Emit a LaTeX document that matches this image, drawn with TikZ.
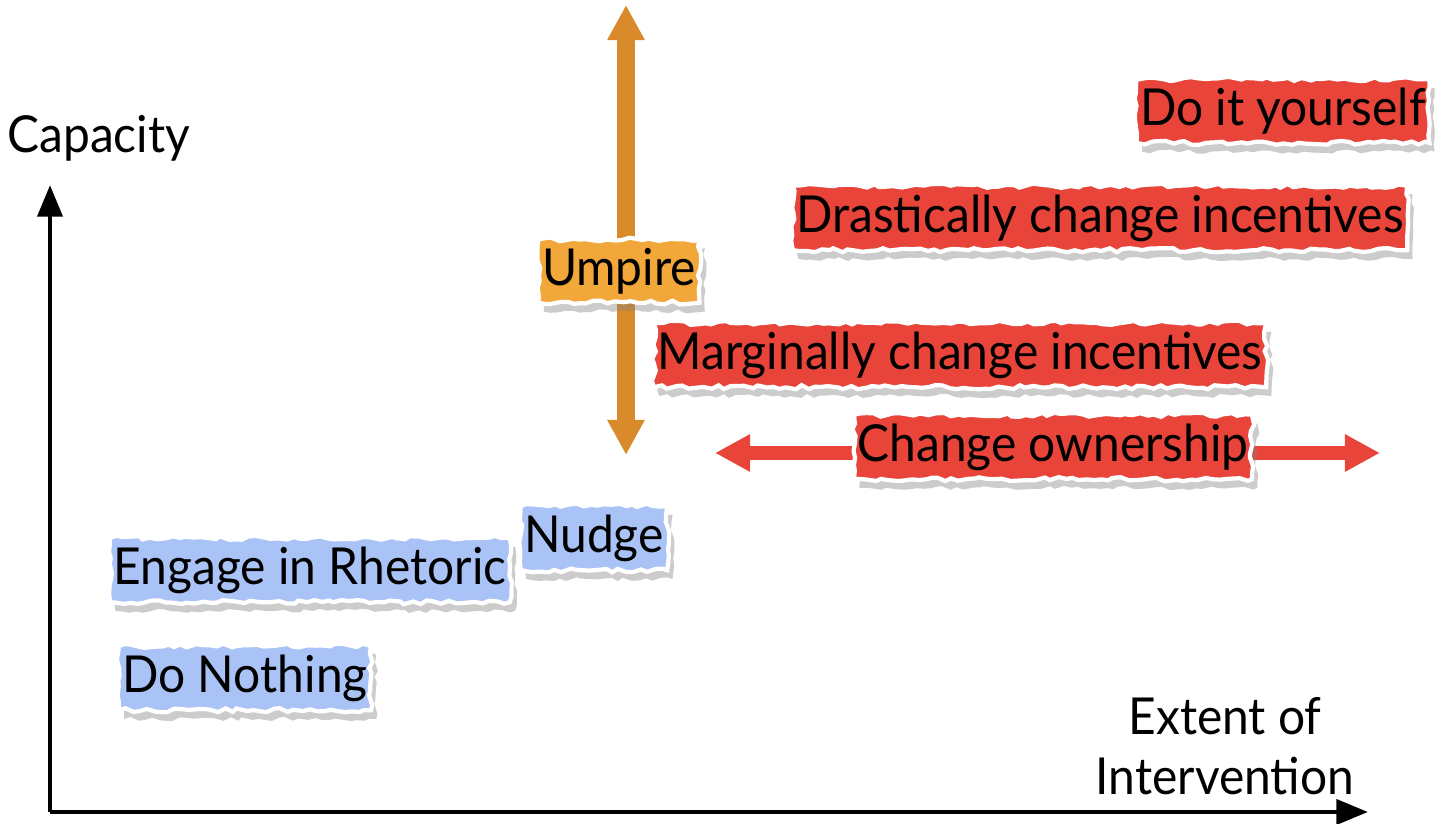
\documentclass[tikz,border=0pt]{standalone}
\usepackage{fontspec}
\setmainfont{Lato}[FakeStretch=0.94]
\usepackage{tikz}
\usetikzlibrary{positioning, arrows.meta, shadows, decorations.pathmorphing}

\definecolor{umpireorange}{HTML}{F2A73B}
\definecolor{arroworange}{HTML}{D98A2B}
\definecolor{paperred}{HTML}{E8443A}
\definecolor{paperblue}{HTML}{A9C3F7}

\tikzset{
  paper/.style={draw=white, line width=1.2pt, inner xsep=1pt, inner ysep=2.5pt,
    font=\fontsize{14.5}{17}\selectfont,
    decorate, decoration={random steps, segment length=2pt, amplitude=0.6pt},
    drop shadow={shadow xshift=1.5pt, shadow yshift=-2.5pt, opacity=0.4}},
  redpaper/.style={paper, fill=paperred},
  bluepaper/.style={paper, fill=paperblue},
  orangepaper/.style={paper, fill=umpireorange},
  axislabel/.style={font=\fontsize{14.5}{17}\selectfont}
}

\begin{document}
\begin{tikzpicture}
  \useasboundingbox (0,0) rectangle (14.56,8.24);

  % axes
  \coordinate (o) at (0.50,0.12);
  \coordinate (ytop) at (0.50,6.39);
  \coordinate (xend) at (13.68,0.12);
  \draw[line width=1.4pt, -{Triangle[length=9pt,width=7pt]}] (o) -- (ytop);
  \draw[line width=1.4pt, -{Triangle[length=9pt,width=7pt]}] (o) -- (xend);
  \node[axislabel, anchor=west] (cap) at (-0.05,6.86) {Capacity};
  \node[axislabel, align=center] (ext) at (12.25,0.78) {Extent of\\Intervention};

  % umpire arrow
  \coordinate (utop) at (6.26,8.19);
  \coordinate (ubot) at (6.26,3.69);
  \draw[arroworange, line width=5pt,
    {Triangle[length=10pt,width=10pt]}-{Triangle[length=10pt,width=10pt]}] (ubot) -- (utop);

  % ownership arrow
  \coordinate (oleft) at (7.15,3.71);
  \coordinate (oright) at (13.80,3.71);
  \draw[paperred, line width=4pt,
    {Triangle[length=10pt,width=10pt]}-{Triangle[length=10pt,width=10pt]}] (oleft) -- (oright);

  % options
  \node[redpaper] (diy) at (12.83,7.13) {Do it yourself};
  \node[redpaper] (drastic) at (11.00,6.06) {Drastically change incentives};
  \node[orangepaper] (umpire) at (6.19,5.53) {Umpire};
  \node[redpaper] (marginal) at (9.60,4.69) {Marginally change incentives};
  \node[redpaper] (owner) at (10.53,3.77) {Change ownership};
  \node[bluepaper] (nudge) at (5.94,2.86) {Nudge};
  \node[bluepaper] (rhetoric) at (3.10,2.54) {Engage in Rhetoric};
  \node[bluepaper] (nothing) at (2.45,1.46) {Do Nothing};
\end{tikzpicture}
\end{document}
